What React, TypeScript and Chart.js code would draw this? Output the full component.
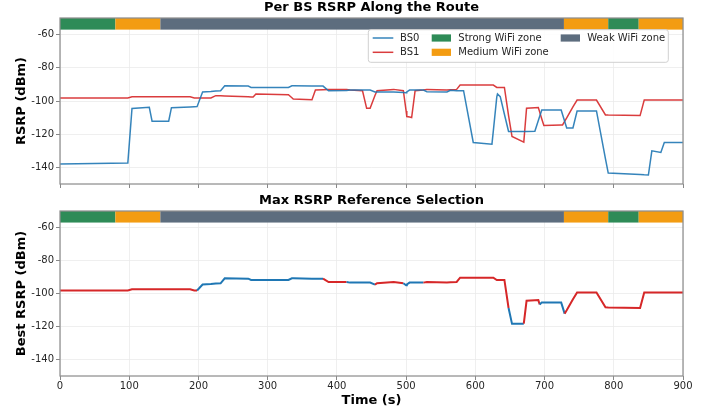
import React, { useEffect, useRef } from "react";
import { Chart, registerables } from "chart.js";

Chart.register(...registerables);

// ---------------- data ----------------
const times = [
  0, 98, 104, 129, 133, 157, 161, 188, 194, 198, 206, 218, 225, 232, 238, 272, 276, 279, 283, 330,
  335, 337, 364, 369, 380, 388, 414, 419, 437, 443, 448, 455, 458, 482, 496, 500, 501, 505, 508, 513,
  525, 530, 559, 564, 573, 578, 583, 597, 624, 626, 631, 632, 636, 642, 648, 653, 670, 674, 686, 691,
  693, 696, 699, 724, 726, 729, 732, 741, 747, 775, 788, 792, 838, 844, 850, 855, 868, 873, 900,
];
const bs0 = [
  -138.0, -137.3, -104.5, -103.8, -112.2, -112.2, -104.0, -103.6, -103.5, -103.4, -94.6, -94.3, -94.0, -93.8, -90.8, -91.0, -91.8, -91.8, -91.8, -91.8,
  -90.8, -90.8, -91.0, -91.0, -91.0, -93.8, -93.6, -93.4, -93.4, -93.4, -93.4, -94.6, -94.6, -94.6, -94.9, -95.0, -94.5, -93.4, -93.4, -93.4,
  -93.4, -94.4, -94.6, -93.6, -93.8, -93.8, -93.8, -125.0, -126.0, -118.0, -97.5, -95.8, -97.4, -108.0, -118.4, -118.4, -118.3, -118.3, -118.2, -111.8,
  -109.2, -105.4, -105.4, -105.4, -108.1, -112.2, -116.2, -116.2, -106.0, -106.0, -134.8, -143.4, -144.3, -144.5, -144.6, -130.0, -131.0, -125.0, -125.0,
];
const bs1 = [
  -98.2, -98.2, -97.4, -97.4, -97.4, -97.4, -97.4, -97.4, -98.2, -98.2, -98.2, -98.2, -96.8, -96.9, -97.0, -97.5, -97.6, -97.6, -95.8, -96.2,
  -98.0, -98.8, -99.2, -93.4, -93.2, -93.1, -93.0, -93.4, -93.8, -104.4, -104.4, -96.7, -93.8, -93.0, -93.8, -106.0, -109.4, -109.7, -110.0, -93.8,
  -93.4, -93.0, -93.4, -93.2, -93.0, -90.4, -90.4, -90.4, -90.4, -90.4, -91.8, -91.8, -91.8, -91.8, -108.8, -121.4, -124.8, -104.4, -104.1, -104.0,
  -106.7, -110.8, -114.8, -114.4, -114.4, -112.3, -110.2, -103.5, -99.4, -99.4, -108.4, -108.5, -108.8, -99.4, -99.4, -99.4, -99.4, -99.4, -99.4,
];

const zoneStart = [0, 80, 145, 728, 792, 836];
const zoneEnd = [80, 145, 728, 792, 836, 900];
const zoneKind = ["strong", "medium", "weak", "medium", "strong", "medium"];
const zoneBand = [-57, -50];

const xTicks = [0, 100, 200, 300, 400, 500, 600, 700, 800, 900];
const yTicks = [-140, -120, -100, -80, -60];
const xRange = [0, 900];
const yRange = [-150, -50];

// ---------------- style ----------------
const FONT = "'DejaVu Sans', 'Liberation Sans', sans-serif";
const BLUE = "#1f77b4";
const RED = "#d62728";
const BLUE_T = "rgba(31,119,180,0.9)";
const RED_T = "rgba(214,39,40,0.9)";
const ZONE_COLORS: Record<string, string> = { strong: "#2e8b57", medium: "#f39c12", weak: "#5d6d7e" };
const GRID = "#ebebeb";
const SPINE = "#8f8f8f";
const TICK = "#888888";
const TEXT = "#262626";

const bestVals = bs0.map((v, i) => Math.max(v, bs1[i]));
const bestSel = bs0.map((v, i) => (v >= bs1[i] ? 0 : 1));

function decoPlugin(title: string, withLegend: boolean) {
  return {
    id: "deco",
    beforeDatasetsDraw(chart: any) {
      const { ctx, scales } = chart;
      const x = scales.x;
      const y = scales.y;
      ctx.save();
      const yTop = y.getPixelForValue(zoneBand[1]);
      const yBot = y.getPixelForValue(zoneBand[0]);
      for (let i = 0; i < zoneStart.length; i++) {
        const x0 = x.getPixelForValue(zoneStart[i]);
        const x1 = x.getPixelForValue(zoneEnd[i]);
        ctx.fillStyle = ZONE_COLORS[zoneKind[i]];
        ctx.fillRect(x0, yTop, x1 - x0, yBot - yTop);
      }
      ctx.restore();
    },
    afterDraw(chart: any) {
      const { ctx, chartArea } = chart;
      const { left, right, top, bottom } = chartArea;
      ctx.save();
      // spines
      ctx.strokeStyle = SPINE;
      ctx.lineWidth = 1.25;
      ctx.strokeRect(left, top, right - left, bottom - top);
      // title
      ctx.fillStyle = "#000";
      ctx.font = `bold 13px ${FONT}`;
      ctx.textAlign = "center";
      ctx.textBaseline = "alphabetic";
      ctx.fillText(title, (left + right) / 2, top - 7);
      if (withLegend) {
        const bx1 = right - 14.7;
        const bx0 = bx1 - 300;
        const by0 = top + 11.7;
        const bh = 32.6;
        ctx.beginPath();
        const r = 2.5;
        ctx.moveTo(bx0 + r, by0);
        ctx.lineTo(bx1 - r, by0);
        ctx.quadraticCurveTo(bx1, by0, bx1, by0 + r);
        ctx.lineTo(bx1, by0 + bh - r);
        ctx.quadraticCurveTo(bx1, by0 + bh, bx1 - r, by0 + bh);
        ctx.lineTo(bx0 + r, by0 + bh);
        ctx.quadraticCurveTo(bx0, by0 + bh, bx0, by0 + bh - r);
        ctx.lineTo(bx0, by0 + r);
        ctx.quadraticCurveTo(bx0, by0, bx0 + r, by0);
        ctx.closePath();
        ctx.fillStyle = "rgba(255,255,255,0.85)";
        ctx.fill();
        ctx.strokeStyle = "#d0d0d0";
        ctx.lineWidth = 1;
        ctx.stroke();

        const row1 = by0 + 8.3;
        const row2 = by0 + 22.6;
        ctx.font = `10px ${FONT}`;
        ctx.textAlign = "left";
        ctx.textBaseline = "middle";
        const lx0 = bx0 + 4.4;
        const lines: [string, string, number][] = [["BS0", BLUE_T, row1], ["BS1", RED_T, row2]];
        for (const [lab, col, ry] of lines) {
          ctx.strokeStyle = col;
          ctx.lineWidth = 1.5;
          ctx.beginPath();
          ctx.moveTo(lx0, ry);
          ctx.lineTo(lx0 + 20.6, ry);
          ctx.stroke();
          ctx.fillStyle = TEXT;
          ctx.fillText(lab, lx0 + 27.3, ry);
        }
        const patches: [string, string, number, number][] = [
          ["Strong WiFi zone", ZONE_COLORS.strong, bx0 + 63.4, row1],
          ["Medium WiFi zone", ZONE_COLORS.medium, bx0 + 63.4, row2],
          ["Weak WiFi zone", ZONE_COLORS.weak, bx0 + 192.4, row1],
        ];
        for (const [lab, col, px, ry] of patches) {
          ctx.fillStyle = col;
          ctx.fillRect(px, ry - 3.6, 19.3, 7.2);
          ctx.fillStyle = TEXT;
          ctx.fillText(lab, px + 26.6, ry);
        }
      }
      ctx.restore();
    },
  };
}

function makeScales(showXLabels: boolean, yTitle: string, xHeight: number) {
  const scales: any = {
    x: {
      type: "linear",
      min: xRange[0],
      max: xRange[1],
      afterBuildTicks: (s: any) => {
        s.ticks = xTicks.map((v) => ({ value: v }));
      },
      ticks: {
        display: showXLabels,
        color: TEXT,
        font: { family: FONT, size: 10 },
        padding: 0.5,
        maxRotation: 0,
        autoSkip: false,
      },
      grid: { color: GRID, lineWidth: 0.8, tickColor: TICK, tickLength: 4, tickWidth: 1 },
      border: { display: false },
      title: showXLabels
        ? {
            display: true,
            text: "Time (s)",
            color: "#000",
            font: { family: FONT, size: 13, weight: "bold" },
            padding: { top: 0, bottom: 5 },
          }
        : { display: false },
      afterFit: (s: any) => {
        s.height = xHeight;
      },
    },
    y: {
      type: "linear",
      min: yRange[0],
      max: yRange[1],
      afterBuildTicks: (s: any) => {
        s.ticks = yTicks.map((v) => ({ value: v }));
      },
      ticks: {
        color: TEXT,
        font: { family: FONT, size: 10 },
        padding: 2,
        callback: (v: any) => String(v),
      },
      grid: { color: GRID, lineWidth: 0.8, tickColor: TICK, tickLength: 4, tickWidth: 1 },
      border: { display: false },
      title: {
        display: true,
        text: yTitle,
        color: "#000",
        font: { family: FONT, size: 13, weight: "bold" },
        padding: { top: 13.7, bottom: 0 },
      },
      afterFit: (s: any) => {
        s.width = 60;
      },
    },
  };
  return scales;
}

function TopChart() {
  const ref = useRef<HTMLCanvasElement | null>(null);
  useEffect(() => {
    if (!ref.current) return;
    const chart = new Chart(ref.current, {
      type: "line",
      data: {
        datasets: [
          {
            label: "BS0",
            data: times.map((t, i) => ({ x: t, y: bs0[i] })),
            borderColor: BLUE_T,
            borderWidth: 1.5,
            pointRadius: 0,
            tension: 0,
          },
          {
            label: "BS1",
            data: times.map((t, i) => ({ x: t, y: bs1[i] })),
            borderColor: RED_T,
            borderWidth: 1.5,
            pointRadius: 0,
            tension: 0,
          },
        ],
      },
      options: {
        responsive: false,
        animation: false,
        devicePixelRatio: 1,
        layout: { padding: { left: 0, right: 27, top: 18, bottom: 0 } },
        plugins: { legend: { display: false }, tooltip: { enabled: false }, title: { display: false } },
        scales: makeScales(false, "RSRP (dBm)", 11),
      } as any,
      plugins: [decoPlugin("Per BS RSRP Along the Route", true)],
    });
    return () => chart.destroy();
  }, []);
  return (
    <canvas
      ref={ref}
      width={710}
      height={195}
      style={{ position: "absolute", left: 0, top: 0, width: 710, height: 195, display: "block" }}
    />
  );
}

function BottomChart() {
  const ref = useRef<HTMLCanvasElement | null>(null);
  useEffect(() => {
    if (!ref.current) return;
    const chart = new Chart(ref.current, {
      type: "line",
      data: {
        datasets: [
          {
            label: "Best",
            data: times.map((t, i) => ({ x: t, y: bestVals[i] })),
            borderColor: RED,
            borderWidth: 2,
            pointRadius: 0,
            tension: 0,
            segment: {
              borderColor: (c: any) => (bestSel[c.p1DataIndex] === 0 ? BLUE : RED),
            },
          },
        ],
      },
      options: {
        responsive: false,
        animation: false,
        devicePixelRatio: 1,
        layout: { padding: { left: 0, right: 27, top: 21, bottom: 0 } },
        plugins: { legend: { display: false }, tooltip: { enabled: false }, title: { display: false } },
        scales: makeScales(true, "Best RSRP (dBm)", 37),
      } as any,
      plugins: [decoPlugin("Max RSRP Reference Selection", false)],
    });
    return () => chart.destroy();
  }, []);
  return (
    <canvas
      ref={ref}
      width={710}
      height={223}
      style={{ position: "absolute", left: 0, top: 190, width: 710, height: 223, display: "block" }}
    />
  );
}

export default function App() {
  return (
    <div style={{ position: "absolute", left: 0, top: 0, width: 710, height: 413, background: "#fff" }}>
      <TopChart />
      <BottomChart />
    </div>
  );
}
